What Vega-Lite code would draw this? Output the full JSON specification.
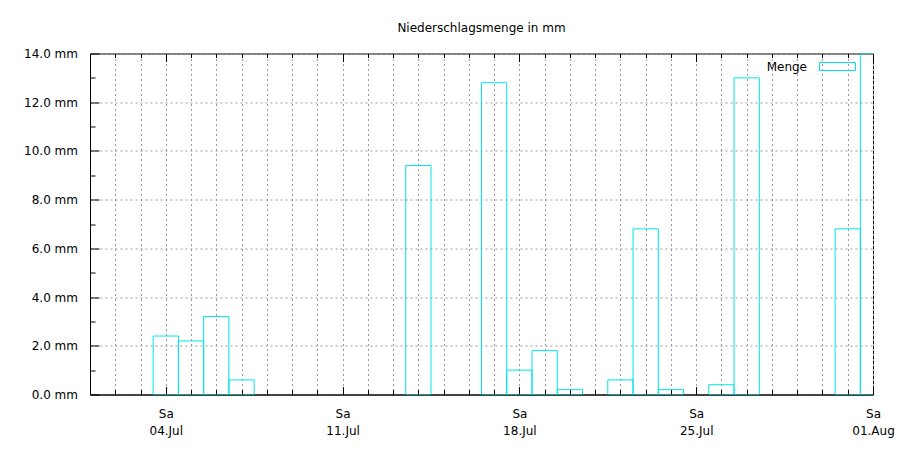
{
  "$schema": "https://vega.github.io/schema/vega-lite/v6.json",
  "width": 783,
  "height": 341,
  "autosize": {"type": "none"},
  "padding": {"left": 90, "top": 53.5, "right": 27, "bottom": 55.5},
  "background": "white",
  "title": {
    "text": "Niederschlagsmenge in mm",
    "font": "DejaVu Sans",
    "fontSize": 12,
    "fontWeight": "normal",
    "color": "black",
    "baseline": "alphabetic",
    "offset": 3.5,
    "frame": "group"
  },
  "data": {
    "values": [
      {"date": "2020/07/04", "mm": 2.4},
      {"date": "2020/07/05", "mm": 2.2},
      {"date": "2020/07/06", "mm": 3.2},
      {"date": "2020/07/07", "mm": 0.6},
      {"date": "2020/07/14", "mm": 9.4},
      {"date": "2020/07/17", "mm": 12.8},
      {"date": "2020/07/18", "mm": 1.0},
      {"date": "2020/07/19", "mm": 1.8},
      {"date": "2020/07/20", "mm": 0.2},
      {"date": "2020/07/22", "mm": 0.6},
      {"date": "2020/07/23", "mm": 6.8},
      {"date": "2020/07/24", "mm": 0.2},
      {"date": "2020/07/26", "mm": 0.4},
      {"date": "2020/07/27", "mm": 13.0},
      {"date": "2020/07/31", "mm": 6.8},
      {"date": "2020/08/01", "mm": 14.0}
    ]
  },
  "resolve": {"axis": {"x": "independent", "y": "independent"}},
  "layer": [
    {
      "mark": {"type": "bar", "filled": false, "strokeWidth": 1, "width": 25.26, "clip": true},
      "encoding": {
        "x": {
          "field": "date",
          "type": "temporal",
          "scale": {"domain": [{"year": 2020, "month": 7, "date": 1}, {"year": 2020, "month": 8, "date": 1}], "nice": false, "padding": 0},
          "axis": {
            "orient": "bottom",
            "title": null,
            "values": [
              {"year": 2020, "month": 7, "date": 4},
              {"year": 2020, "month": 7, "date": 11},
              {"year": 2020, "month": 7, "date": 18},
              {"year": 2020, "month": 7, "date": 25},
              {"year": 2020, "month": 8, "date": 1}
            ],
            "tickSize": -8,
            "labelPadding": 21.5,
            "labelBaseline": "top",
            "labelLineHeight": 17,
            "labelExpr": "['Sa', timeFormat(datum.value, '%d.%b')]",
            "labelFlush": false,
            "labelOverlap": false,
            "grid": false
          }
        },
        "y": {
          "field": "mm",
          "type": "quantitative",
          "scale": {"domain": [0, 14], "nice": false},
          "axis": {
            "orient": "left",
            "title": null,
            "values": [0, 2, 4, 6, 8, 10, 12, 14],
            "tickSize": -9,
            "labelPadding": 21.5,
            "labelExpr": "format(datum.value, '.1f') + ' mm'",
            "labelFlush": false,
            "labelOverlap": false,
            "grid": true
          }
        },
        "stroke": {
          "datum": "Menge",
          "type": "nominal",
          "scale": {"range": ["#00e5e5"]},
          "legend": {
            "orient": "none",
            "legendX": 729,
            "legendY": -5.5,
            "title": null,
            "padding": 0,
            "symbolType": "M-1,-0.222H1V0.222H-1Z",
            "symbolSize": 1296,
            "symbolStrokeWidth": 1,
            "symbolFillColor": "transparent",
            "labelAlign": "right",
            "labelOffset": -49,
            "labelFont": "DejaVu Sans",
            "labelFontSize": 12,
            "labelColor": "black"
          }
        }
      }
    },
    {
      "mark": {"type": "point", "opacity": 0},
      "encoding": {
        "x": {
          "field": "date",
          "type": "temporal",
          "scale": {"domain": [{"year": 2020, "month": 7, "date": 1}, {"year": 2020, "month": 8, "date": 1}], "nice": false, "padding": 0},
          "axis": {
            "orient": "bottom",
            "title": null,
            "tickCount": {"interval": "day", "step": 1},
            "tickSize": -5,
            "labels": false,
            "domain": false,
            "grid": true
          }
        },
        "y": {
          "field": "mm",
          "type": "quantitative",
          "scale": {"domain": [0, 14], "nice": false},
          "axis": {
            "orient": "left",
            "title": null,
            "values": [1, 3, 5, 7, 9, 11, 13],
            "tickSize": -5,
            "labels": false,
            "domain": false,
            "grid": false
          }
        }
      }
    },
    {
      "mark": {"type": "point", "opacity": 0},
      "encoding": {
        "x": {
          "field": "date",
          "type": "temporal",
          "scale": {"domain": [{"year": 2020, "month": 7, "date": 1}, {"year": 2020, "month": 8, "date": 1}], "nice": false, "padding": 0},
          "axis": {
            "orient": "top",
            "title": null,
            "tickCount": {"interval": "day", "step": 1},
            "tickSize": -4,
            "labels": false,
            "domain": false,
            "grid": false
          }
        },
        "y": {
          "field": "mm",
          "type": "quantitative",
          "scale": {"domain": [0, 14], "nice": false},
          "axis": null
        }
      }
    },
    {
      "mark": {"type": "point", "opacity": 0},
      "encoding": {
        "x": {
          "field": "date",
          "type": "temporal",
          "scale": {"domain": [{"year": 2020, "month": 7, "date": 1}, {"year": 2020, "month": 8, "date": 1}], "nice": false, "padding": 0},
          "axis": {
            "orient": "top",
            "title": null,
            "values": [
              {"year": 2020, "month": 7, "date": 4},
              {"year": 2020, "month": 7, "date": 11},
              {"year": 2020, "month": 7, "date": 18},
              {"year": 2020, "month": 7, "date": 25},
              {"year": 2020, "month": 8, "date": 1}
            ],
            "tickSize": -8,
            "labels": false,
            "domain": false,
            "grid": false
          }
        },
        "y": {
          "field": "mm",
          "type": "quantitative",
          "scale": {"domain": [0, 14], "nice": false},
          "axis": null
        }
      }
    }
  ],
  "config": {
    "view": {"stroke": "black", "strokeWidth": 1},
    "axis": {
      "domainColor": "black",
      "domainWidth": 1,
      "tickColor": "black",
      "tickWidth": 1,
      "labelColor": "black",
      "labelFont": "DejaVu Sans",
      "labelFontSize": 12,
      "gridColor": "#999999",
      "gridDash": [2, 3],
      "gridWidth": 1,
      "gridOpacity": 1
    }
  }
}
